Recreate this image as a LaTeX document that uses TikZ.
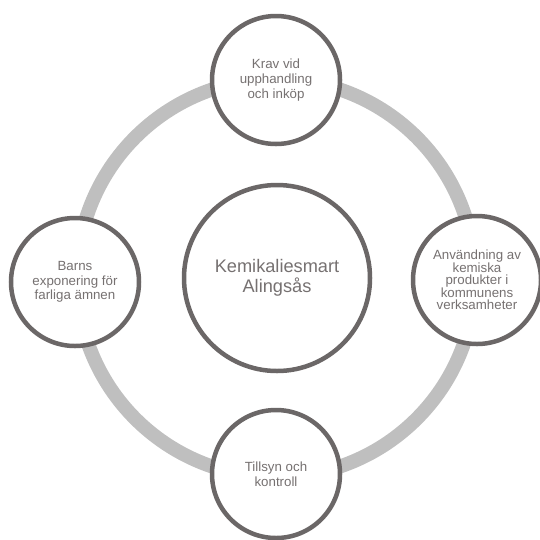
\documentclass[tikz,border=0pt]{standalone}
\usepackage{fontspec}
\setmainfont{Liberation Sans}
\definecolor{ringgray}{RGB}{191,191,191}
\definecolor{rimgray}{RGB}{107,103,103}
\definecolor{txtgray}{RGB}{118,113,113}
\tikzset{
    ring/.style={draw=ringgray, line width=14pt},
    hub/.style={circle,draw=rimgray,line width=4.5pt,fill=white,minimum size=186pt,inner sep=0pt,
        text=txtgray,align=center,font=\fontsize{18.2}{19.5}\selectfont},
    topic/.style={circle,draw=rimgray,line width=4.5pt,fill=white,minimum size=128pt,inner sep=0pt,
        text=txtgray,align=center,font=\fontsize{13.3}{14.7}\selectfont},
}

\begin{document}
\begin{tikzpicture}[x=1pt,y=-1pt]
    \useasboundingbox (0,0) rectangle (540,539);
    \coordinate (mid) at (276,278);
    \draw[ring] (mid) circle (199);
    \node[hub] (0) at (277,278) {Kemikaliesmart\\Alingsås};
    \node[topic] (1) at (276,80) {Krav vid\\upphandling\\och inköp};
    \node[topic] (2) at (75,282) {Barns\\exponering för\\farliga ämnen};
    \node[topic, font=\fontsize{13.3}{12.6}\selectfont] (3) at (477,280) {Användning av\\kemiska\\produkter i\\kommunens\\verksamheter};
    \node[topic] (4) at (276,474) {Tillsyn och\\kontroll};
\end{tikzpicture}
\end{document}
